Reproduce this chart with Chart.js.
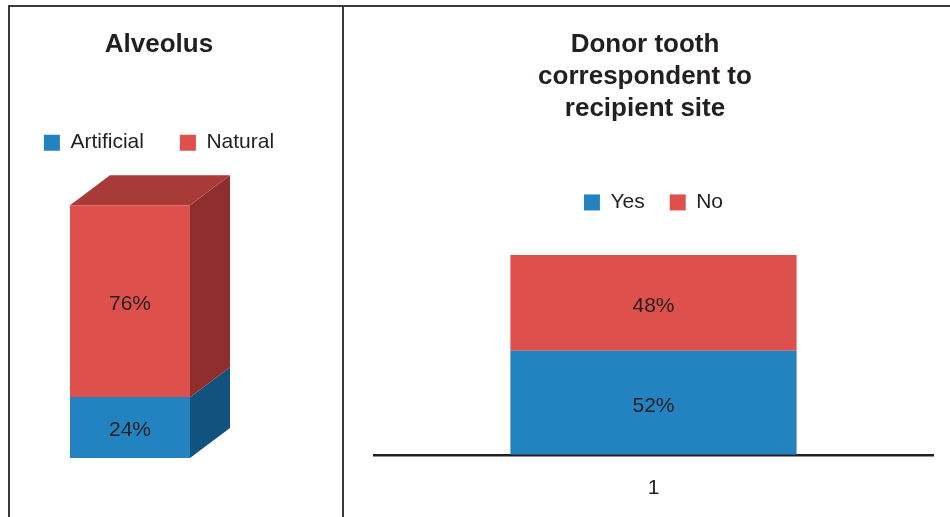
<!DOCTYPE html>
<html>
<head>
<meta charset="utf-8">
<title>Alveolus / Donor tooth</title>
<script src="https://cdn.jsdelivr.net/npm/chart.js@4.4.1/dist/chart.umd.min.js"></script>
<style>
  html, body { margin: 0; padding: 0; background: #fff; }
  body { width: 950px; height: 517px; position: relative; overflow: hidden; }
  .rule { position: absolute; background: #3a3a3a; z-index: 2; }
  #topRule { left: 8px; top: 5px; width: 942px; height: 2px; }
  #leftRule { left: 8px; top: 5px; width: 2px; height: 512px; }
  #midRule { left: 342px; top: 5px; width: 2px; height: 512px; }
  .panel { position: absolute; top: 7px; }
  #alveolusBox { left: 4px; width: 310px; height: 510px; }
  #donorBox { left: 342px; width: 606px; height: 520px; }
</style>
</head>
<body>
<div class="rule" id="topRule"></div>
<div class="rule" id="leftRule"></div>
<div class="rule" id="midRule"></div>
<div class="panel" id="alveolusBox"><canvas id="alveolusChart"></canvas></div>
<div class="panel" id="donorBox"><canvas id="donorChart"></canvas></div>
<script>
// values (percent)
const alveolusLabels = ['1'];
const alveolusSeries = ['Artificial', 'Natural'];
const alveolusValues = [24, 76];

const donorLabels = ['1'];
const donorSeries = ['Yes', 'No'];
const donorValues = [52, 48];

const seriesColors = ['#2383c0', '#dd504c'];
const fontFamily = '"Liberation Sans", Arial, Helvetica, sans-serif';
const ink = '#231f20';

// pushes the plot further down below the legend
const legendGap = {
  id: 'legendGap',
  afterInit(chart, args, opts) {
    const legend = chart.legend;
    const fit = legend.fit;
    legend.fit = function () {
      fit.call(this);
      this.height += opts.gap || 0;
    };
  }
};

// fake 3d: side faces for every segment, top face on the last one
const barDepth = {
  id: 'barDepth',
  beforeDatasetsDraw(chart, args, opts) {
    if (!opts.enabled) return;
    const ctx = chart.ctx;
    const last = chart.data.datasets.length - 1;
    chart.data.datasets.forEach((ds, i) => {
      chart.getDatasetMeta(i).data.forEach(bar => {
        const { x, y, base, width } = bar.getProps(['x', 'y', 'base', 'width'], true);
        const left = x - width / 2;
        const right = x + width / 2;
        ctx.save();
        ctx.fillStyle = opts.sideColors[i];
        ctx.beginPath();
        ctx.moveTo(right, y);
        ctx.lineTo(right + opts.dx, y - opts.dy);
        ctx.lineTo(right + opts.dx, base - opts.dy);
        ctx.lineTo(right, base);
        ctx.closePath();
        ctx.fill();
        if (i === last) {
          ctx.fillStyle = opts.topColor;
          ctx.beginPath();
          ctx.moveTo(left, y);
          ctx.lineTo(left + opts.dx, y - opts.dy);
          ctx.lineTo(right + opts.dx, y - opts.dy);
          ctx.lineTo(right, y);
          ctx.closePath();
          ctx.fill();
        }
        ctx.restore();
      });
    });
  }
};

// percentage written in the middle of each segment
const valueLabels = {
  id: 'valueLabels',
  afterDatasetsDraw(chart) {
    const ctx = chart.ctx;
    ctx.save();
    ctx.font = '21px ' + fontFamily;
    ctx.fillStyle = ink;
    ctx.textAlign = 'center';
    ctx.textBaseline = 'middle';
    chart.data.datasets.forEach((ds, i) => {
      chart.getDatasetMeta(i).data.forEach((bar, j) => {
        const c = bar.getCenterPoint();
        ctx.fillText(ds.data[j] + '%', c.x, c.y + 3);
      });
    });
    ctx.restore();
  }
};

// blank axis that only reserves horizontal room
function spacer(position, width) {
  return {
    type: 'linear',
    position: position,
    min: 0,
    max: 100,
    grid: { display: false, drawTicks: false },
    border: { display: false },
    ticks: { display: false },
    afterFit(scale) { scale.width = width; }
  };
}

function legendOptions(padding) {
  return {
    position: 'top',
    labels: {
      boxWidth: 16,
      boxHeight: 16,
      padding: padding,
      color: ink,
      font: { size: 21, family: fontFamily }
    }
  };
}

new Chart(document.getElementById('alveolusChart'), {
  type: 'bar',
  data: {
    labels: alveolusLabels,
    datasets: alveolusSeries.map((name, i) => ({
      label: name,
      data: [alveolusValues[i]],
      backgroundColor: seriesColors[i],
      barPercentage: 1,
      categoryPercentage: 1
    }))
  },
  options: {
    responsive: true,
    maintainAspectRatio: false,
    animation: false,
    events: [],
    layout: { padding: { top: 0, left: 0, right: 0, bottom: 59 } },
    scales: {
      x: { stacked: true, display: false },
      y: Object.assign(spacer('left', 66), { stacked: true }),
      y2: spacer('right', 124)
    },
    plugins: {
      title: {
        display: true,
        text: 'Alveolus',
        color: ink,
        font: { size: 26, weight: 'bold', family: fontFamily, lineHeight: 1.2 },
        padding: { top: 22, bottom: 36 }
      },
      legend: legendOptions(36),
      legendGap: { gap: 42 },
      barDepth: {
        enabled: true,
        dx: 40,
        dy: 30,
        sideColors: ['#11527e', '#8e2f2d'],
        topColor: '#a83a38'
      },
      tooltip: { enabled: false }
    }
  },
  plugins: [legendGap, barDepth, valueLabels]
});

new Chart(document.getElementById('donorChart'), {
  type: 'bar',
  data: {
    labels: donorLabels,
    datasets: donorSeries.map((name, i) => ({
      label: name,
      data: [donorValues[i]],
      backgroundColor: seriesColors[i],
      barPercentage: 0.512,
      categoryPercentage: 1
    }))
  },
  options: {
    responsive: true,
    maintainAspectRatio: false,
    animation: false,
    events: [],
    layout: { padding: { top: 0, left: 0, right: 0, bottom: 5 } },
    scales: {
      x: {
        stacked: true,
        grid: { display: false, drawTicks: false },
        border: { display: true, color: ink, width: 2.5 },
        ticks: { color: ink, padding: 21, font: { size: 21, family: fontFamily } }
      },
      y: Object.assign(spacer('left', 32), { stacked: true }),
      y2: spacer('right', 15)
    },
    plugins: {
      title: {
        display: true,
        text: ['Donor tooth', 'correspondent to', 'recipient site'],
        color: ink,
        font: { size: 26, weight: 'bold', family: fontFamily, lineHeight: 1.23 },
        padding: { top: 22, bottom: 42 }
      },
      legend: Object.assign(legendOptions(25), { fullSize: false }),
      legendGap: { gap: 32 },
      barDepth: { enabled: false },
      tooltip: { enabled: false }
    }
  },
  plugins: [legendGap, barDepth, valueLabels]
});
</script>
</body>
</html>
